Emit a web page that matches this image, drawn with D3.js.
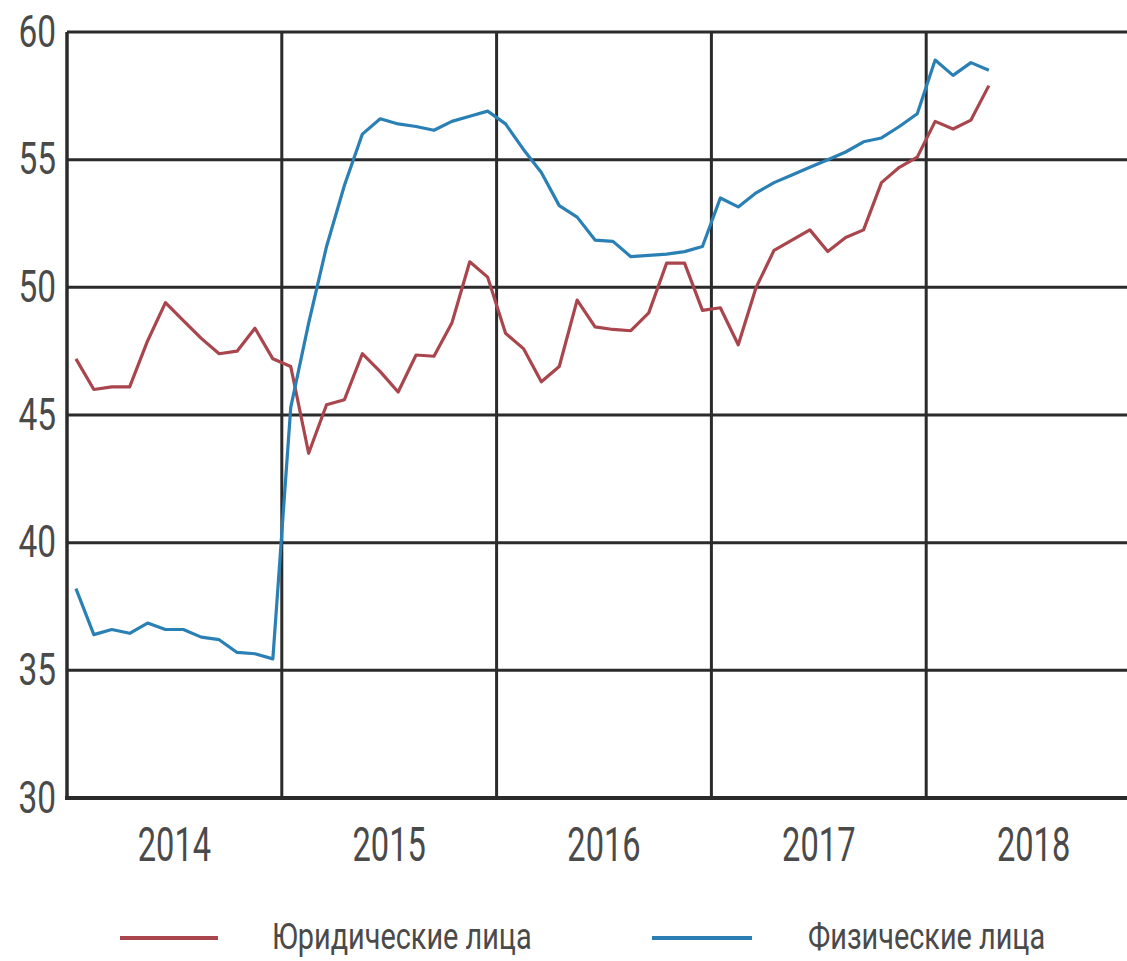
<!DOCTYPE html>
<html>
<head>
<meta charset="utf-8">
<script src="https://cdn.jsdelivr.net/npm/d3@7"></script>
<style>
  html, body { margin: 0; padding: 0; background: #fff; }
  svg { display: block; }
  text { font-family: Roboto, "Liberation Sans", sans-serif; fill: #4a4a4a; }
</style>
</head>
<body>
<svg id="chart" width="1127" height="961"></svg>
<script>
// Years on the x axis (monthly observations, Jan 2014 – Apr 2018)
const years = ["2014", "2015", "2016", "2017", "2018"];
const yTicks = [30, 35, 40, 45, 50, 55, 60];

// Юридические лица, monthly values
const legalEntities = [
  47.2, 46.0, 46.1, 46.1, 47.9, 49.4, 48.7, 48.0, 47.4, 47.5, 48.4, 47.2,
  46.9, 43.5, 45.4, 45.6, 47.4, 46.7, 45.9, 47.35, 47.3, 48.6, 51.0, 50.4,
  48.2, 47.6, 46.3, 46.9, 49.5, 48.45, 48.35, 48.3, 49.0, 50.95, 50.95, 49.1,
  49.2, 47.75, 50.0, 51.45, 51.85, 52.25, 51.4, 51.95, 52.25, 54.1, 54.7, 55.1,
  56.5, 56.2, 56.55, 57.9
];

// Физические лица, monthly values
const individuals = [
  38.2, 36.4, 36.6, 36.45, 36.85, 36.6, 36.6, 36.3, 36.2, 35.7, 35.65, 35.45,
  45.3, 48.6, 51.6, 54.0, 56.0, 56.6, 56.4, 56.3, 56.15, 56.5, 56.7, 56.9,
  56.4, 55.4, 54.5, 53.2, 52.75, 51.85, 51.8, 51.2, 51.25, 51.3, 51.4, 51.6,
  53.5, 53.15, 53.7, 54.1, 54.4, 54.7, 55.0, 55.3, 55.7, 55.85, 56.3, 56.8,
  58.9, 58.3, 58.8, 58.5
];

const seriesNames = ["Юридические лица", "Физические лица"];
const seriesColors = ["#a9454d", "#2a80b4"];

const svg = d3.select("#chart");
const plotLeft = 67, plotRight = 1141, plotTop = 32, plotBottom = 798;

// month index -> x (each year is 12 slots, point at the slot centre)
const x = d3.scaleLinear().domain([0, years.length * 12]).range([plotLeft, plotRight]);
const y = d3.scaleLinear().domain([30, 60]).range([plotBottom, plotTop]);

const gridColor = "#2b2b2b";

// horizontal grid
svg.append("g").selectAll("line")
  .data(yTicks.filter(v => v !== 30))
  .join("line")
  .attr("x1", plotLeft).attr("x2", plotRight)
  .attr("y1", d => y(d)).attr("y2", d => y(d))
  .attr("stroke", gridColor).attr("stroke-width", 3);

// year separators
svg.append("g").selectAll("line")
  .data(d3.range(0, years.length + 1))
  .join("line")
  .attr("x1", d => x(d * 12)).attr("x2", d => x(d * 12))
  .attr("y1", plotTop).attr("y2", plotBottom)
  .attr("stroke", gridColor).attr("stroke-width", d => d === 0 ? 3.5 : 3);

// bottom axis line
svg.append("line")
  .attr("x1", plotLeft - 2).attr("x2", plotRight)
  .attr("y1", plotBottom).attr("y2", plotBottom)
  .attr("stroke", gridColor).attr("stroke-width", 4);

// condensed text helper
function label(g, tx, ty, str, size, anchor, sx) {
  g.append("text")
    .attr("transform", `translate(${tx},${ty}) scale(${sx},1)`)
    .attr("text-anchor", anchor)
    .attr("dominant-baseline", "central")
    .attr("font-size", size)
    .text(str);
}

// y tick labels
const yLab = svg.append("g");
yTicks.forEach(v => label(yLab, 56, y(v), String(v), 44, "end", 0.76));

// year labels
const xLab = svg.append("g");
years.forEach((yr, i) => label(xLab, x(i * 12 + 6), 845, yr, 48, "middle", 0.68));

// series lines
const line = d3.line()
  .x((d, i) => x(i + 0.5))
  .y(d => y(d));

[legalEntities, individuals].forEach((vals, k) => {
  svg.append("path")
    .datum(vals)
    .attr("fill", "none")
    .attr("stroke", seriesColors[k])
    .attr("stroke-width", 3.2)
    .attr("stroke-linejoin", "round")
    .attr("d", line);
});

// legend
const legend = svg.append("g");
const legendItems = [
  { x1: 120, x2: 218, tx: 272, w: 268 },
  { x1: 652, x2: 752, tx: 808, w: 247 }
];
legendItems.forEach((it, k) => {
  legend.append("line")
    .attr("x1", it.x1).attr("x2", it.x2)
    .attr("y1", 938).attr("y2", 938)
    .attr("stroke", seriesColors[k]).attr("stroke-width", 4);
  label(legend, it.tx, 936, seriesNames[k], 37, "start", 0.78);
});
</script>
</body>
</html>
